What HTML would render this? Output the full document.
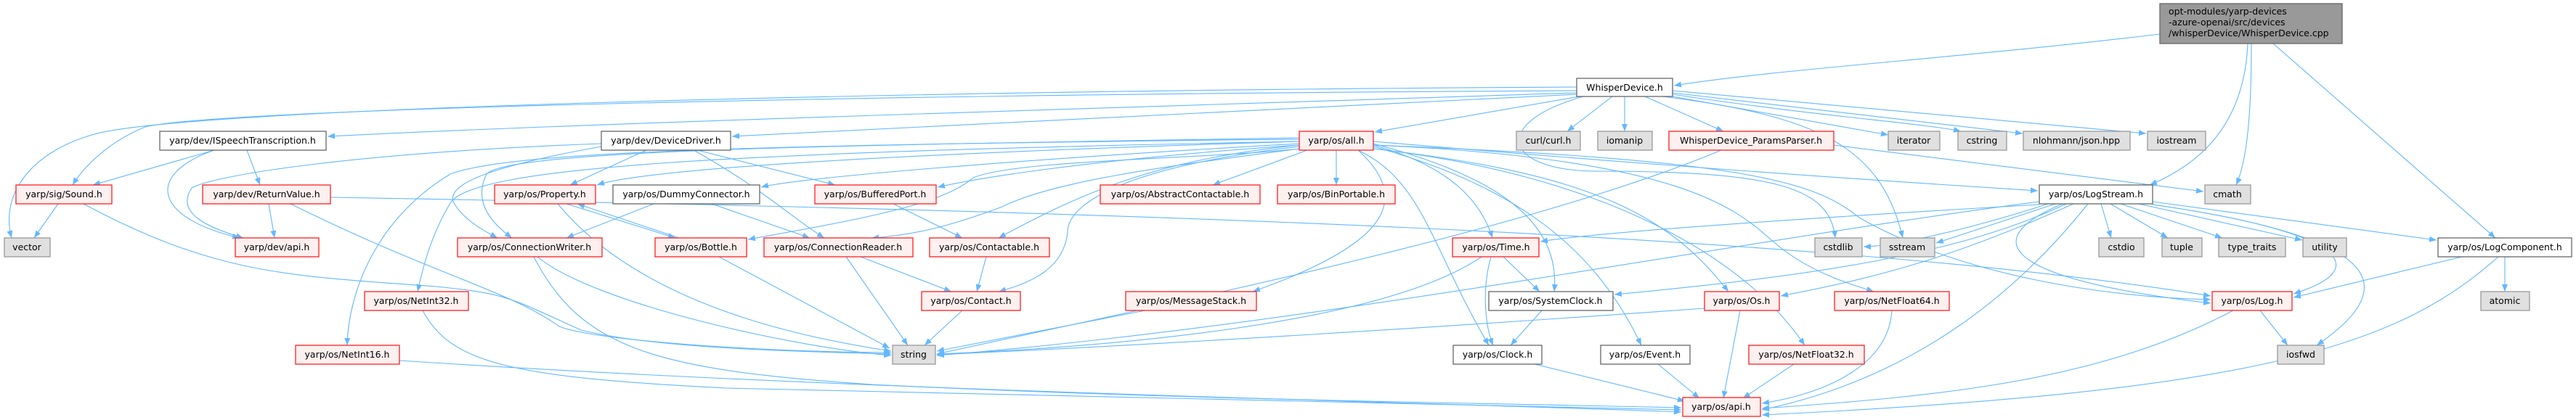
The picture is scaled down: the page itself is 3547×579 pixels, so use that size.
<!DOCTYPE html>
<html><head><meta charset="utf-8"><style>
html,body{margin:0;padding:0;background:#fff;}
svg{display:block;}
text{font-family:"DejaVu Sans","Liberation Sans",sans-serif;font-size:12.5px;fill:#000;}
.e{fill:none;stroke:#63b8ff;stroke-width:1.1;marker-end:url(#a);}
.r{fill:#fff0f0;stroke:#ff2020;stroke-width:1.3;}
.g{fill:#e0e0e0;stroke:#999;stroke-width:1.3;}
.w{fill:#fff;stroke:#666;stroke-width:1.3;}
</style></head><body>
<svg width="3547" height="579" viewBox="0 0 3547 579" xmlns="http://www.w3.org/2000/svg">
<defs><marker id="a" markerUnits="userSpaceOnUse" markerWidth="11" markerHeight="8" refX="10" refY="4" orient="auto"><path d="M0,0 L10,4 L0,8 z" fill="#63b8ff"/></marker></defs>
<g>
<path class="e" d="M2974,47 C2700,80 2450,95 2305,118"/>
<path class="e" d="M3095,60 C3090,180 3020,230 2960,255"/>
<path class="e" d="M3100,60 C3100,150 3095,220 3079,255"/>
<path class="e" d="M3130,60 L3436,328"/>
<path class="e" d="M2175,133 L1893,182"/>
<path class="e" d="M2220,133 L2158,181"/>
<path class="e" d="M2237,133 L2237,181"/>
<path class="e" d="M2265,133 L2373,181"/>
<path class="e" d="M2303,133 L2600,186"/>
<path class="e" d="M2303,130 C2500,160 2650,170 2700,181"/>
<path class="e" d="M2303,128 L2785,184"/>
<path class="e" d="M2303,125 L2955,184"/>
<path class="e" d="M2290,133 C2500,160 2590,200 2620,328"/>
<path class="e" d="M2180,133 C2050,170 2070,236 2200,236 C2450,236 2520,260 2527,328"/>
<path class="e" d="M1891,195 C2300,230 2600,250 2806,263"/>
<path class="e" d="M2525,200 L3034,264"/>
<path class="e" d="M2370,207 C2100,320 1600,420 1290,488"/>
<path class="e" d="M2171,120 C1200,125 250,150 130,185 C40,210 0,270 16,328"/>
<path class="e" d="M2171,125 C1200,130 300,150 200,175 C150,195 115,230 100,255"/>
<path class="e" d="M2171,128 C1500,150 800,170 451,188"/>
<path class="e" d="M2171,130 L1008,188"/>
<path class="e" d="M295,207 L128,255"/>
<path class="e" d="M340,207 L358,255"/>
<path class="e" d="M295,207 C200,240 210,300 330,328"/>
<path class="e" d="M828,198 C500,210 300,240 264,259 C240,295 290,315 335,328"/>
<path class="e" d="M828,202 C700,225 610,250 625,280 C640,305 670,320 685,328"/>
<path class="e" d="M890,207 L785,255"/>
<path class="e" d="M960,207 L1150,255"/>
<path class="e" d="M955,207 C1050,260 1090,300 1135,328"/>
<path class="e" d="M80,281 L47,328"/>
<path class="e" d="M115,281 C300,380 400,380 600,395 C700,405 700,410 800,455 C900,480 1100,485 1227,488"/>
<path class="e" d="M370,281 L378,328"/>
<path class="e" d="M400,281 C600,380 700,400 770,450 C820,470 1050,485 1227,486"/>
<path class="e" d="M455,272 C1500,290 2500,320 3044,408"/>
<path class="e" d="M768,281 C850,380 1000,450 1227,484"/>
<path class="e" d="M780,281 L930,328"/>
<path class="e" d="M935,328 L795,281"/>
<path class="e" d="M900,281 L780,328"/>
<path class="e" d="M980,281 L1115,328"/>
<path class="e" d="M740,354 C820,420 1100,480 1227,490"/>
<path class="e" d="M735,354 C800,480 900,510 1200,530 C1600,550 2000,555 2315,562"/>
<path class="e" d="M582,428 C620,500 700,520 1000,535 C1500,550 2000,556 2315,565"/>
<path class="e" d="M550,497 C1200,540 2000,555 2315,568"/>
<path class="e" d="M1230,281 L1325,328"/>
<path class="e" d="M990,354 L1225,480"/>
<path class="e" d="M1165,354 L1250,476"/>
<path class="e" d="M1185,354 L1310,402"/>
<path class="e" d="M1358,354 L1345,402"/>
<path class="e" d="M1325,428 L1273,476"/>
<path class="e" d="M1577,428 L1290,484"/>
<path class="e" d="M1789,195 C1300,210 900,230 822,255"/>
<path class="e" d="M1789,198 C1400,220 1100,245 1048,258"/>
<path class="e" d="M1789,200 C1500,220 1350,245 1291,258"/>
<path class="e" d="M1800,207 L1670,255"/>
<path class="e" d="M1840,207 L1840,255"/>
<path class="e" d="M1789,205 C1650,220 1400,220 1340,245 C1300,280 1200,300 1030,330"/>
<path class="e" d="M1789,205 C1600,230 1450,250 1380,285 C1300,315 1250,325 1200,328"/>
<path class="e" d="M1789,190 C1200,200 700,205 670,240 C650,280 680,310 705,328"/>
<path class="e" d="M1789,200 C1600,220 1500,260 1375,328"/>
<path class="e" d="M1789,202 C1550,230 1470,280 1470,320 C1465,370 1420,390 1375,402"/>
<path class="e" d="M1870,207 C1950,280 1900,340 1725,402"/>
<path class="e" d="M1789,195 C1000,210 650,230 620,280 C590,330 580,380 575,402"/>
<path class="e" d="M1789,192 C1000,200 700,210 620,240 C520,300 480,400 478,476"/>
<path class="e" d="M1891,200 C2000,230 2040,280 2055,328"/>
<path class="e" d="M1891,198 C2050,240 2150,300 2140,402"/>
<path class="e" d="M1870,207 C1960,250 1970,340 2050,476"/>
<path class="e" d="M1891,202 C2100,260 2200,350 2260,476"/>
<path class="e" d="M1891,205 C2200,240 2300,300 2380,402"/>
<path class="e" d="M1891,205 C2200,240 2400,350 2485,476"/>
<path class="e" d="M1891,200 C2350,220 2400,300 2450,340 C2500,380 2560,395 2580,402"/>
<path class="e" d="M1891,200 C2400,220 2500,250 2560,300 C2700,380 2900,410 3044,413"/>
<path class="e" d="M2070,354 L2120,402"/>
<path class="e" d="M2053,354 C2040,400 2045,450 2056,476"/>
<path class="e" d="M2040,354 C1900,450 1500,480 1290,488"/>
<path class="e" d="M2123,428 L2080,476"/>
<path class="e" d="M2113,502 L2320,553"/>
<path class="e" d="M2283,502 L2340,549"/>
<path class="e" d="M2470,502 L2400,549"/>
<path class="e" d="M2605,428 C2600,510 2500,545 2426,556"/>
<path class="e" d="M2396,428 L2373,549"/>
<path class="e" d="M2347,425 C2000,450 1600,475 1290,489"/>
<path class="e" d="M2808,282 C2500,300 2200,320 2121,333"/>
<path class="e" d="M2830,281 L2666,335"/>
<path class="e" d="M2820,281 C2700,320 2600,340 2566,340"/>
<path class="e" d="M2893,281 L2907,328"/>
<path class="e" d="M2906,281 L2985,328"/>
<path class="e" d="M2920,281 L3060,328"/>
<path class="e" d="M2945,281 L3170,331"/>
<path class="e" d="M2964,278 L3355,331"/>
<path class="e" d="M2964,282 C3230,320 3270,370 3158,405"/>
<path class="e" d="M2964,282 C3300,330 3300,400 3190,476"/>
<path class="e" d="M2875,281 C2780,400 2640,520 2426,565"/>
<path class="e" d="M2855,281 C2700,350 2600,380 2452,408"/>
<path class="e" d="M2845,281 C2700,350 2500,380 2223,406"/>
<path class="e" d="M2808,278 C2400,330 1800,450 1290,490"/>
<path class="e" d="M2840,281 C2700,340 2800,390 3044,418"/>
<path class="e" d="M3390,354 L3158,410"/>
<path class="e" d="M3449,354 L3449,402"/>
<path class="e" d="M3440,354 C3300,480 3100,540 2426,572"/>
<path class="e" d="M3112,428 L3150,476"/>
<path class="e" d="M3075,428 C2900,520 2700,545 2426,563"/>
</g>
<g>
<rect x="2974" y="5" width="251" height="55" fill="#999" stroke="#666" stroke-width="1.3"/>
<text x="2986" y="20">opt-modules/yarp-devices</text>
<text x="2986" y="35">-azure-openai/src/devices</text>
<text x="2986" y="50">/whisperDevice/WhisperDevice.cpp</text>
</g>
<g text-anchor="middle">
<rect class="w" x="2171" y="108" width="132" height="25"/><text x="2237" y="125">WhisperDevice.h</text>
<rect class="w" x="220" y="181" width="229" height="26"/><text x="334" y="198">yarp/dev/ISpeechTranscription.h</text>
<rect class="w" x="828" y="181" width="178" height="26"/><text x="917" y="198">yarp/dev/DeviceDriver.h</text>
<rect class="r" x="1789" y="181" width="102" height="26"/><text x="1840" y="198">yarp/os/all.h</text>
<rect class="g" x="2088" y="181" width="88" height="26"/><text x="2132" y="198">curl/curl.h</text>
<rect class="g" x="2200" y="181" width="75" height="26"/><text x="2237" y="198">iomanip</text>
<rect class="r" x="2298" y="181" width="227" height="26"/><text x="2411" y="198">WhisperDevice_ParamsParser.h</text>
<rect class="g" x="2600" y="181" width="71" height="26"/><text x="2635" y="198">iterator</text>
<rect class="g" x="2696" y="181" width="67" height="26"/><text x="2729" y="198">cstring</text>
<rect class="g" x="2786" y="181" width="147" height="26"/><text x="2859" y="198">nlohmann/json.hpp</text>
<rect class="g" x="2957" y="181" width="80" height="26"/><text x="2997" y="198">iostream</text>

<rect class="r" x="22" y="255" width="132" height="26"/><text x="88" y="272">yarp/sig/Sound.h</text>
<rect class="r" x="279" y="255" width="176" height="26"/><text x="367" y="272">yarp/dev/ReturnValue.h</text>
<rect class="r" x="681" y="255" width="139" height="26"/><text x="750" y="272">yarp/os/Property.h</text>
<rect class="w" x="844" y="255" width="202" height="26"/><text x="945" y="272">yarp/os/DummyConnector.h</text>
<rect class="r" x="1122" y="255" width="167" height="26"/><text x="1205" y="272">yarp/os/BufferedPort.h</text>
<rect class="r" x="1515" y="255" width="220" height="26"/><text x="1625" y="272">yarp/os/AbstractContactable.h</text>
<rect class="r" x="1759" y="255" width="162" height="26"/><text x="1840" y="272">yarp/os/BinPortable.h</text>
<rect class="w" x="2808" y="255" width="156" height="26"/><text x="2886" y="272">yarp/os/LogStream.h</text>
<rect class="g" x="3036" y="255" width="63" height="26"/><text x="3067" y="272">cmath</text>

<rect class="g" x="6" y="328" width="63" height="26"/><text x="37" y="345">vector</text>
<rect class="r" x="324" y="328" width="115" height="26"/><text x="381" y="345">yarp/dev/api.h</text>
<rect class="r" x="630" y="328" width="199" height="26"/><text x="729" y="345">yarp/os/ConnectionWriter.h</text>
<rect class="r" x="902" y="328" width="126" height="26"/><text x="965" y="345">yarp/os/Bottle.h</text>
<rect class="r" x="1052" y="328" width="205" height="26"/><text x="1154" y="345">yarp/os/ConnectionReader.h</text>
<rect class="r" x="1280" y="328" width="165" height="26"/><text x="1362" y="345">yarp/os/Contactable.h</text>
<rect class="r" x="2000" y="328" width="119" height="26"/><text x="2060" y="345">yarp/os/Time.h</text>
<rect class="g" x="2499" y="328" width="65" height="26"/><text x="2531" y="345">cstdlib</text>
<rect class="g" x="2589" y="328" width="75" height="26"/><text x="2626" y="345">sstream</text>
<rect class="g" x="2890" y="328" width="62" height="26"/><text x="2921" y="345">cstdio</text>
<rect class="g" x="2977" y="328" width="55" height="26"/><text x="3004" y="345">tuple</text>
<rect class="g" x="3055" y="328" width="92" height="26"/><text x="3101" y="345">type_traits</text>
<rect class="g" x="3171" y="328" width="60" height="26"/><text x="3201" y="345">utility</text>
<rect class="w" x="3357" y="328" width="184" height="26"/><text x="3449" y="345">yarp/os/LogComponent.h</text>

<rect class="r" x="502" y="402" width="143" height="26"/><text x="573" y="419">yarp/os/NetInt32.h</text>
<rect class="r" x="1269" y="402" width="136" height="26"/><text x="1337" y="419">yarp/os/Contact.h</text>
<rect class="r" x="1550" y="402" width="180" height="26"/><text x="1640" y="419">yarp/os/MessageStack.h</text>
<rect class="w" x="2050" y="402" width="171" height="26"/><text x="2135" y="419">yarp/os/SystemClock.h</text>
<rect class="r" x="2347" y="402" width="103" height="26"/><text x="2398" y="419">yarp/os/Os.h</text>
<rect class="r" x="2526" y="402" width="158" height="26"/><text x="2605" y="419">yarp/os/NetFloat64.h</text>
<rect class="r" x="3046" y="402" width="110" height="26"/><text x="3101" y="419">yarp/os/Log.h</text>
<rect class="g" x="3416" y="402" width="67" height="26"/><text x="3449" y="419">atomic</text>

<rect class="r" x="407" y="476" width="143" height="26"/><text x="478" y="493">yarp/os/NetInt16.h</text>
<rect class="g" x="1229" y="476" width="59" height="26"/><text x="1258" y="493">string</text>
<rect class="w" x="2001" y="476" width="122" height="26"/><text x="2062" y="493">yarp/os/Clock.h</text>
<rect class="w" x="2204" y="476" width="123" height="26"/><text x="2265" y="493">yarp/os/Event.h</text>
<rect class="r" x="2408" y="476" width="159" height="26"/><text x="2487" y="493">yarp/os/NetFloat32.h</text>
<rect class="g" x="3136" y="476" width="64" height="26"/><text x="3168" y="493">iosfwd</text>

<rect class="r" x="2317" y="548" width="107" height="26"/><text x="2370" y="565">yarp/os/api.h</text>
</g>
</svg>
</body></html>
